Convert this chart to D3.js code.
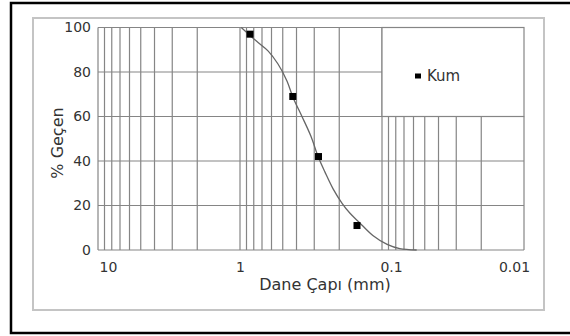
<!DOCTYPE html>
<html>
<head>
<meta charset="utf-8">
<script src="https://cdn.jsdelivr.net/npm/d3@7"></script>
<style>
  html, body { margin: 0; padding: 0; background: #fff; }
  svg { display: block; }
  text { font-family: "DejaVu Sans", Verdana, sans-serif; fill: #333; }
</style>
</head>
<body>
<svg id="chart" width="570" height="336"></svg>
<script>
// Sieve analysis: grain size (mm) vs percent passing
const sieveSize = [0.85, 0.425, 0.28, 0.15];
const percentPassing = [97, 69, 42, 11];

// Fitted gradation curve
const curveSize = [0.98, 0.77, 0.635, 0.54, 0.467, 0.424, 0.366, 0.316, 0.282, 0.252, 0.221, 0.191, 0.168, 0.145, 0.116, 0.092, 0.075, 0.057];
const curvePct  = [100, 94, 89.5, 83.6, 76, 68.7, 60, 51, 42, 35, 27.5, 21, 16.5, 12.5, 6.5, 2.5, 0.6, 0];

const xTickValues = [10, 1, 0.1, 0.01];
const xTickLabels = ["10", "1", "0.1", "0.01"];
const yTickValues = [0, 20, 40, 60, 80, 100];
const seriesName = "Kum";

const svg = d3.select("#chart");

// outer frames
svg.append("rect").attr("x", 11).attr("y", 3).attr("width", 620).attr("height", 330)
  .attr("fill", "none").attr("stroke", "#000").attr("stroke-width", 2.5);
svg.append("rect").attr("x", 33).attr("y", 18).attr("width", 511).attr("height", 292)
  .attr("fill", "none").attr("stroke", "#c4c4c4").attr("stroke-width", 2);

const x = d3.scaleLog().domain([10, 0.01]).range([98, 524]);
const y = d3.scaleLinear().domain([0, 100]).range([250, 27.5]);

const gridColor = "#858585";
const grid = svg.append("g").attr("stroke", gridColor).attr("stroke-width", 1.2);

// vertical grid: every minor log step
const minor = [];
[1, 0.1, 0.01].forEach(dec => { for (let k = 1; k <= 9; k++) minor.push(k * dec); });
minor.push(10);
minor.forEach(v => {
  const top = v < 0.1 - 1e-9 ? y(60) : y(100);
  grid.append("line").attr("x1", x(v)).attr("x2", x(v)).attr("y1", top).attr("y2", y(0));
});

// horizontal grid
yTickValues.forEach(v => {
  const right = v > 60 && v < 100 ? x(0.1) : x(0.01);
  grid.append("line").attr("x1", x(10)).attr("x2", right).attr("y1", y(v)).attr("y2", y(v));
});

// legend box (sits in the upper right grid cell)
svg.append("rect")
  .attr("x", x(0.1)).attr("y", y(100))
  .attr("width", x(0.01) - x(0.1)).attr("height", y(60) - y(100))
  .attr("fill", "#fff").attr("stroke", gridColor).attr("stroke-width", 1.2);

// y axis labels
const yAxis = d3.axisLeft(y).tickValues(yTickValues).tickSize(0).tickPadding(7);
const gy = svg.append("g").attr("transform", `translate(${x(10)},0)`).call(yAxis);
gy.select(".domain").remove();
gy.selectAll("text").attr("font-size", 14).attr("fill", "#333")
  .attr("font-family", "DejaVu Sans, Verdana, sans-serif");

// x axis labels
const nudge = { "10": 10, "1": 0, "0.1": 9, "0.01": -10 };
const xAxis = d3.axisBottom(x).tickValues(xTickValues).tickSize(0).tickPadding(12)
  .tickFormat((d, i) => xTickLabels[i]);
const gx = svg.append("g").attr("transform", `translate(0,${y(0)})`).call(xAxis);
gx.select(".domain").remove();
gx.selectAll("text").attr("font-size", 14).attr("fill", "#333")
  .attr("font-family", "DejaVu Sans, Verdana, sans-serif")
  .attr("dx", (d, i) => nudge[xTickLabels[i]]);

// axis titles
svg.append("text").attr("x", 325).attr("y", 290).attr("text-anchor", "middle")
  .attr("font-size", 16).text("Dane Çapı (mm)");
svg.append("text").attr("transform", "translate(63,143) rotate(-90)")
  .attr("text-anchor", "middle").attr("font-size", 16).text("% Geçen");

// gradation curve
const curveData = curveSize.map((s, i) => [s, curvePct[i]]);
svg.append("path").datum(curveData)
  .attr("fill", "none").attr("stroke", "#666").attr("stroke-width", 1.3)
  .attr("d", d3.line().x(d => x(d[0])).y(d => y(d[1])).curve(d3.curveCatmullRom.alpha(0.5)));

// measured points
const ms = 7;
svg.append("g").selectAll("rect").data(sieveSize).join("rect")
  .attr("x", d => x(d) - ms / 2)
  .attr("y", (d, i) => y(percentPassing[i]) - ms / 2)
  .attr("width", ms).attr("height", ms).attr("fill", "#000");

// legend entry
svg.append("rect").attr("x", 415).attr("y", 73.5).attr("width", 6).attr("height", 5).attr("fill", "#000");
svg.append("text").attr("x", 427).attr("y", 81).attr("font-size", 15).text(seriesName);
</script>
</body>
</html>
